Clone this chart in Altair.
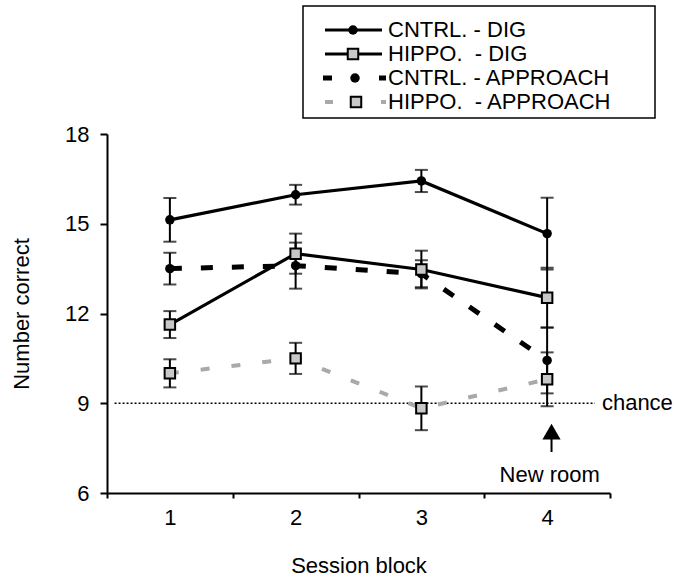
import altair as alt
import pandas as pd

# ---- data ----
blocks = [1, 2, 3, 4]
cntrl_dig = [15.13, 15.97, 16.43, 14.67]
cntrl_dig_err = [0.73, 0.33, 0.37, 1.20]
hippo_dig = [11.63, 14.00, 13.47, 12.53]
hippo_dig_err = [0.45, 0.67, 0.63, 1.00]
cntrl_app = [13.50, 13.60, 13.33, 10.43]
cntrl_app_err = [0.53, 0.77, 0.45, 1.10]
hippo_app = [10.00, 10.50, 8.83, 9.80]
hippo_app_err = [0.47, 0.52, 0.73, 0.90]

series_names = ["CNTRL. - DIG", "HIPPO.\u00a0 - DIG", "CNTRL. - APPROACH", "HIPPO.\u00a0 - APPROACH"]
y_ticks = [6, 9, 12, 15, 18]
x_ticks = [0.5, 1.5, 2.5, 3.5, 4.5]
chance_value = 9
chance_span = [0.56, 4.38]
chance_label = "chance"
arrow_label = "New room"
x_title = "Session block"
y_title = "Number correct"

FONT = "Liberation Sans"
FS = 22
W, H = 503, 359


def frame(vals, errs):
    return pd.DataFrame({
        "block": blocks,
        "value": vals,
        "lo": [v - e for v, e in zip(vals, errs)],
        "hi": [v + e for v, e in zip(vals, errs)],
    })


df_cd = frame(cntrl_dig, cntrl_dig_err)
df_hd = frame(hippo_dig, hippo_dig_err)
df_ca = frame(cntrl_app, cntrl_app_err)
df_ha = frame(hippo_app, hippo_app_err)

xscale = alt.Scale(domain=[0.5, 4.5], nice=False, zero=False)
yscale = alt.Scale(domain=[6, 18], nice=False, zero=False)

xaxis = alt.Axis(
    values=x_ticks, title=x_title, grid=False,
    labelExpr="datum.value < 4 ? format(datum.value + 0.5, 'd') : ''",
    labelOffset=W / 8, labelFlush=False, labelOverlap=False,
    tickSize=5, tickWidth=2, tickColor="black", domainColor="black", domainWidth=2,
    labelFont=FONT, labelFontSize=FS, labelColor="black", labelPadding=9,
    titleFont=FONT, titleFontSize=FS, titleFontWeight="normal", titleColor="black",
    titlePadding=27,
)
yaxis = alt.Axis(
    values=y_ticks, title=y_title, grid=False,
    tickSize=7, tickWidth=2, tickColor="black", domainColor="black", domainWidth=2,
    labelFont=FONT, labelFontSize=FS, labelColor="black", labelPadding=11,
    titleFont=FONT, titleFontSize=FS, titleFontWeight="normal", titleColor="black",
    titlePadding=31,
)

X = alt.X("block:Q", scale=xscale, axis=xaxis)
Y = alt.Y("value:Q", scale=yscale, axis=yaxis)

# chance line
df_chance = pd.DataFrame({"block": chance_span, "value": [chance_value] * 2})
chance_line = alt.Chart(df_chance).mark_line(
    color="black", strokeWidth=1.3, strokeDash=[2, 2]
).encode(x=X, y=Y)
chance_text = alt.Chart(pd.DataFrame({"block": [chance_span[1]], "value": [chance_value], "t": [chance_label]})).mark_text(
    font=FONT, fontSize=FS, align="left", baseline="middle", dx=7, color="black"
).encode(x=alt.X("block:Q", scale=xscale), y=alt.Y("value:Q", scale=yscale), text="t:N")

# series lines
line_ha = alt.Chart(df_ha).mark_line(color="#a9a9a9", strokeWidth=4, strokeDash=[9, 22]).encode(x=X, y=Y)
line_ca = alt.Chart(df_ca).mark_line(color="black", strokeWidth=5, strokeDash=[12, 19]).encode(x=X, y=Y)
line_hd = alt.Chart(df_hd).mark_line(color="black", strokeWidth=3.2).encode(x=X, y=Y)
line_cd = alt.Chart(df_cd).mark_line(color="black", strokeWidth=3.2).encode(x=X, y=Y)


def errbars(df):
    base = alt.Chart(df)
    rule = base.mark_rule(color="black", strokeWidth=2).encode(
        x=alt.X("block:Q", scale=xscale), y=alt.Y("lo:Q", scale=yscale), y2="hi:Q")
    cap_lo = base.mark_tick(color="black", orient="horizontal", size=13, thickness=2).encode(
        x=alt.X("block:Q", scale=xscale), y=alt.Y("lo:Q", scale=yscale))
    cap_hi = base.mark_tick(color="black", orient="horizontal", size=13, thickness=2).encode(
        x=alt.X("block:Q", scale=xscale), y=alt.Y("hi:Q", scale=yscale))
    return [rule, cap_lo, cap_hi]


err_layers = errbars(df_ha) + errbars(df_ca) + errbars(df_hd) + errbars(df_cd)

pt_ha = alt.Chart(df_ha).mark_point(shape="square", size=110, filled=True, fill="#c8c8c8",
                                   stroke="black", strokeWidth=2, opacity=1).encode(x=X, y=Y)
pt_ca = alt.Chart(df_ca).mark_point(shape="circle", size=90, filled=True, color="black", opacity=1).encode(x=X, y=Y)
pt_hd = alt.Chart(df_hd).mark_point(shape="square", size=110, filled=True, fill="#c8c8c8",
                                   stroke="black", strokeWidth=2, opacity=1).encode(x=X, y=Y)
pt_cd = alt.Chart(df_cd).mark_point(shape="circle", size=90, filled=True, color="black", opacity=1).encode(x=X, y=Y)

# arrow + "New room"
df_arrow = pd.DataFrame({"block": [4.035, 4.035], "value": [7.37, 7.95]})
arrow_stem = alt.Chart(df_arrow).mark_line(color="black", strokeWidth=2).encode(
    x=alt.X("block:Q", scale=xscale), y=alt.Y("value:Q", scale=yscale))
arrow_head = alt.Chart(pd.DataFrame({"block": [4.035], "value": [8.05]})).mark_point(
    shape="triangle-up", size=330, filled=True, color="black", opacity=1).encode(
    x=alt.X("block:Q", scale=xscale), y=alt.Y("value:Q", scale=yscale))
arrow_text = alt.Chart(pd.DataFrame({"block": [4.02], "value": [6.6], "t": [arrow_label]})).mark_text(
    font=FONT, fontSize=FS, align="center", baseline="middle", color="black").encode(
    x=alt.X("block:Q", scale=xscale), y=alt.Y("value:Q", scale=yscale), text="t:N")

# ---- custom legend (pixel placement relative to plot origin) ----
one = pd.DataFrame({"a": [0]})
leg = []
leg.append(alt.Chart(one).mark_rect(fill="white", stroke="black", strokeWidth=1.5).encode(
    x=alt.value(196), x2=alt.value(548), y=alt.value(-128), y2=alt.value(-16)))
row_y = [-104, -80, -56, -32]
LX0, LX1, LMID, TX = 218, 275, 246, 281
# row 1: solid line + circle
leg.append(alt.Chart(one).mark_rule(color="black", strokeWidth=3.2).encode(
    x=alt.value(LX0), x2=alt.value(LX1), y=alt.value(row_y[0])))
leg.append(alt.Chart(one).mark_point(shape="circle", size=90, filled=True, color="black", opacity=1).encode(
    x=alt.value(LMID), y=alt.value(row_y[0])))
# row 2: solid line + square
leg.append(alt.Chart(one).mark_rule(color="black", strokeWidth=3.2).encode(
    x=alt.value(LX0), x2=alt.value(LX1), y=alt.value(row_y[1])))
leg.append(alt.Chart(one).mark_point(shape="square", size=110, filled=True, fill="#c8c8c8",
                                    stroke="black", strokeWidth=2, opacity=1).encode(
    x=alt.value(LMID), y=alt.value(row_y[1])))
# row 3: dashes + circle
for a, b in [(216, 225), (272, 279)]:
    leg.append(alt.Chart(one).mark_rule(color="black", strokeWidth=5).encode(
        x=alt.value(a), x2=alt.value(b), y=alt.value(row_y[2])))
leg.append(alt.Chart(one).mark_point(shape="circle", size=90, filled=True, color="black", opacity=1).encode(
    x=alt.value(248), y=alt.value(row_y[2])))
# row 4: gray dashes + square
for a, b in [(218, 226), (274, 279)]:
    leg.append(alt.Chart(one).mark_rule(color="#a9a9a9", strokeWidth=4).encode(
        x=alt.value(a), x2=alt.value(b), y=alt.value(row_y[3])))
leg.append(alt.Chart(one).mark_point(shape="square", size=110, filled=True, fill="#c8c8c8",
                                    stroke="black", strokeWidth=2, opacity=1).encode(
    x=alt.value(249), y=alt.value(row_y[3])))
for name, yy in zip(series_names, row_y):
    leg.append(alt.Chart(pd.DataFrame({"t": [name]})).mark_text(
        font=FONT, fontSize=FS, align="left", baseline="middle", color="black").encode(
        x=alt.value(TX), y=alt.value(yy), text="t:N"))

chart = alt.layer(
    chance_line, chance_text,
    line_ha, line_ca, line_hd, line_cd,
    *err_layers,
    pt_ha, pt_ca, pt_hd, pt_cd,
    arrow_stem, arrow_head, arrow_text,
    *leg,
).properties(
    width=W, height=H,
    autosize=alt.AutoSizeParams(type="none"),
    padding={"left": 107, "top": 134, "right": 66, "bottom": 92},
    background="white",
).configure_view(stroke=None)

chart.save("out.html", embed_options={"renderer": "svg", "actions": False})
